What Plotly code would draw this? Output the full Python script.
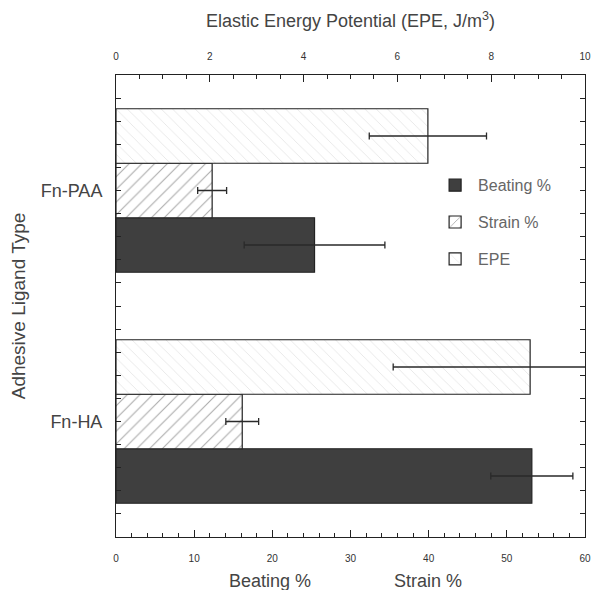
import plotly.graph_objects as go

# ---- data ----
categories = ["Fn-HA", "Fn-PAA"]          # bottom to top
beating = [53.2, 25.4]
beating_err = [5.25, 9.0]
strain = [16.15, 12.3]
strain_err = [2.1, 1.85]
epe = [8.83, 6.65]
epe_err = [2.92, 1.25]

x_ticks_pct = [0, 10, 20, 30, 40, 50, 60]
x_ticks_epe = [0, 2, 4, 6, 8, 10]

y_pos = list(range(len(categories)))

FONT = "Liberation Sans, Arial, sans-serif"
BW = 0.236

fig = go.Figure()

err_style = dict(type="data", color="#2a2a2a", thickness=1.3, width=3.5)

fig.add_trace(go.Bar(
    name="Beating %", y=y_pos, x=beating, orientation="h",
    width=BW, offset=-1.5 * BW,
    marker=dict(color="#3f3f3f", line=dict(color="#222222", width=1.2)),
    error_x=dict(array=beating_err, **err_style),
    xaxis="x", yaxis="y", legendgroup="b",
))
fig.add_trace(go.Bar(
    name="Strain %", y=y_pos, x=strain, orientation="h",
    width=BW, offset=-0.5 * BW,
    marker=dict(color="white", line=dict(color="#222222", width=1.2),
                pattern=dict(shape="/", fgcolor="#555555", bgcolor="white",
                             size=9, solidity=0.12)),
    error_x=dict(array=strain_err, **err_style),
    xaxis="x", yaxis="y", legendgroup="s",
))
fig.add_trace(go.Bar(
    name="EPE", y=y_pos, x=epe, orientation="h",
    width=BW, offset=0.5 * BW,
    marker=dict(color="white", line=dict(color="#222222", width=1.2),
                pattern=dict(shape="\\", fgcolor="#c8c8c8", bgcolor="white",
                             size=8, solidity=0.1)),
    error_x=dict(array=epe_err, **err_style),
    xaxis="x2", yaxis="y", legendgroup="e",
))

axis_common = dict(showline=True, linecolor="#222222", linewidth=1,
                   ticks="inside", tickcolor="#222222", showgrid=False,
                   zeroline=False, automargin=False,
                   tickfont=dict(family=FONT, size=10, color="#333333"))

fig.update_layout(
    width=584, height=582,
    margin=dict(l=108, r=7, t=67, b=53),
    plot_bgcolor="white", paper_bgcolor="white",
    barmode="overlay",
    showlegend=True,
    legend=dict(x=0.674, y=0.798, xanchor="left", yanchor="top",
                bgcolor="rgba(0,0,0,0)", tracegroupgap=13, itemwidth=36,
                font=dict(family=FONT, size=16, color="#666666"),
                traceorder="grouped"),
    xaxis=dict(range=[0, 60], tickvals=x_ticks_pct, ticklen=7,
               minor=dict(dtick=2, ticklen=4, ticks="inside", tickcolor="#222222"),
               ticklabelstandoff=12, **axis_common),
    xaxis2=dict(range=[0, 10], tickvals=x_ticks_epe, overlaying="x", side="top",
                anchor="y", ticklen=7,
                minor=dict(dtick=0.5, ticklen=4, ticks="inside", tickcolor="#222222"),
                ticklabelstandoff=10,
                title=dict(text="Elastic Energy Potential (EPE, J/m<sup>3</sup>)",
                           font=dict(family=FONT, size=18, color="#444444"),
                           standoff=18),
                **axis_common),
    yaxis=dict(range=[-0.5, 1.5], tickvals=y_pos, ticktext=categories, ticklen=5,
               mirror="ticks", automargin=False,
               minor=dict(dtick=0.1, tick0=0, ticklen=5, ticks="inside", tickcolor="#222222"),
               ticklabelstandoff=9,
               title=dict(text="Adhesive Ligand Type",
                          font=dict(family=FONT, size=19, color="#444444"),
                          standoff=21),
               showline=True, linecolor="#222222", linewidth=1,
               ticks="inside", tickcolor="#222222", showgrid=False, zeroline=False,
               tickfont=dict(family=FONT, size=18, color="#444444")),
)

fig.add_annotation(text="Beating %", xref="paper", yref="paper", x=0.328, y=-0.095,
                   xanchor="center", yanchor="middle", showarrow=False,
                   font=dict(family=FONT, size=18, color="#444444"))
fig.add_annotation(text="Strain %", xref="paper", yref="paper", x=0.665, y=-0.095,
                   xanchor="center", yanchor="middle", showarrow=False,
                   font=dict(family=FONT, size=18, color="#444444"))

fig.write_html("out.html")
